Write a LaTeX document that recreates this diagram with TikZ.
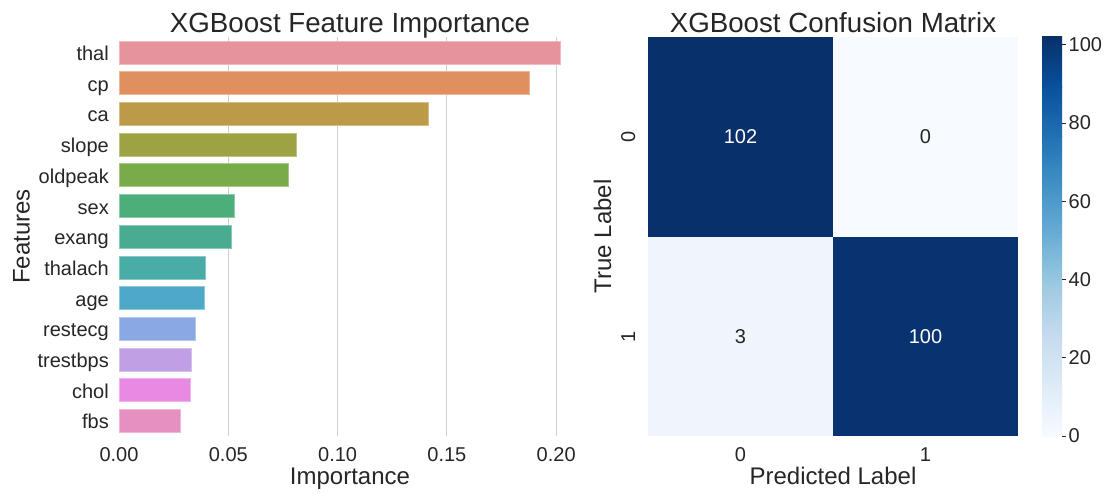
\documentclass[tikz,border=0pt]{standalone}
\usepackage{fontspec}
\setmainfont{Liberation Sans}
% text and grid
\definecolor{tc}{HTML}{262626}
\definecolor{gridc}{HTML}{D0D0D0}
% bar palette
\definecolor{c0}{HTML}{E5949E}
\definecolor{c1}{HTML}{E0905F}
\definecolor{c2}{HTML}{BD9A48}
\definecolor{c3}{HTML}{9DA343}
\definecolor{c4}{HTML}{79AB48}
\definecolor{c5}{HTML}{4CAF7A}
\definecolor{c6}{HTML}{49AC91}
\definecolor{c7}{HTML}{4AACA6}
\definecolor{c8}{HTML}{4EA9C9}
\definecolor{c9}{HTML}{8AA8E3}
\definecolor{c10}{HTML}{C09FE4}
\definecolor{c11}{HTML}{E88AE4}
\definecolor{c12}{HTML}{E590C0}
% Blues colormap stops
\definecolor{bl0}{HTML}{F7FBFF}
\definecolor{bl1}{HTML}{DEEBF7}
\definecolor{bl2}{HTML}{C6DBEF}
\definecolor{bl3}{HTML}{9ECAE1}
\definecolor{bl4}{HTML}{6BAED6}
\definecolor{bl5}{HTML}{4292C6}
\definecolor{bl6}{HTML}{2171B5}
\definecolor{bl7}{HTML}{08519C}
\definecolor{bl8}{HTML}{08306B}
% heatmap cells
\definecolor{hm102}{HTML}{08306B}
\definecolor{hm100}{HTML}{083370}
\definecolor{hm3}{HTML}{EFF5FB}
\definecolor{hm0}{HTML}{F7FBFF}
\begin{document}
\begin{tikzpicture}[x=1pt,y=-1pt,
  lbl/.style={text=tc, inner sep=0pt, font=\fontsize{20}{24}\selectfont},
  ttl/.style={text=tc, inner sep=0pt, font=\fontsize{27.7}{32}\selectfont},
  axl/.style={text=tc, inner sep=0pt, font=\fontsize{24}{28}\selectfont},
  gridline/.style={draw=gridc, line width=1pt},
  cbtick/.style={draw=tc, line width=0.8pt}]
\useasboundingbox[fill=white] (0,0) rectangle (1107,493);

% ---------------- feature importance ----------------
\foreach \v/\t in {0.05/0.05,0.10/0.10,0.15/0.15,0.20/0.20} {
  \pgfmathsetmacro{\gx}{119+\v*2186}
  \draw[gridline] (\gx,37) -- (\gx,436);
}
\foreach \v/\t [count=\k] in {0.00/0.00,0.05/0.05,0.10/0.10,0.15/0.15,0.20/0.20} {
  \pgfmathsetmacro{\gx}{119+\v*2186}
  \node[lbl, anchor=base] (xt\k) at (\gx,461) {\t};
}

\foreach \n/\v [count=\i from 0] in {thal/0.2017, cp/0.1876, ca/0.1414,
    slope/0.0810, oldpeak/0.0773, sex/0.0526, exang/0.0512, thalach/0.0393,
    age/0.0389, restecg/0.0348, trestbps/0.0329, chol/0.0325, fbs/0.0279} {
  \pgfmathsetmacro{\yc}{52.5+30.7*\i}
  \pgfmathsetmacro{\xe}{119+\v*2186}
  \filldraw[fill=c\i, draw=c\i!65!white, line width=0.8pt]
    (119,\yc-11.5) rectangle (\xe,\yc+11.5);
  \node[lbl, anchor=base east] (f\i) at (109,\yc+8) {\n};
}

\node[ttl, anchor=base] (t1) at (350,32) {XGBoost Feature Importance};
\node[axl, anchor=base] (xl1) at (350,484) {Importance};
\node[axl, anchor=base, rotate=90] (yl1) at (29.5,236.5) {Features};

% ---------------- confusion matrix ----------------
\fill[hm102] (648,37) rectangle (833,236.5);
\fill[hm0]   (833,37) rectangle (1018,236.5);
\fill[hm3]   (648,236.5) rectangle (833,436);
\fill[hm100] (833,236.5) rectangle (1018,436);

\node[lbl, text=white] (a00) at (740.5,136.5) {102};
\node[lbl] (a01) at (925.5,136.5) {0};
\node[lbl] (a10) at (740.5,336.5) {3};
\node[lbl, text=white] (a11) at (925.5,336.5) {100};

\node[lbl, anchor=base, rotate=90] (yt0) at (635,136.5) {0};
\node[lbl, anchor=base, rotate=90] (yt1) at (635,336.5) {1};
\node[lbl, anchor=base] (xt0) at (740.5,461) {0};
\node[lbl, anchor=base] (xtb1) at (925.5,461) {1};

\node[ttl, anchor=base] (t2) at (833,32) {XGBoost Confusion Matrix};
\node[axl, anchor=base] (xl2) at (833,484) {Predicted Label};
\node[axl, anchor=base, rotate=90] (yl2) at (611,236.5) {True Label};

% colour bar
\foreach \k [evaluate=\k as \kn using int(\k+1)] in {0,...,7} {
  \pgfmathsetmacro{\ylo}{436-49.875*\k}
  \pgfmathsetmacro{\yhi}{436-49.875*(\k+1)}
  \shade[bottom color=bl\k, top color=bl\kn]
    (1042,\yhi-0.3) rectangle (1062,\ylo+0.3);
}
\foreach \v [count=\k] in {0,20,40,60,80,100} {
  \pgfmathsetmacro{\cy}{436-\v*3.9118}
  \draw[cbtick] (1062,\cy) -- (1066,\cy);
  \node[lbl, anchor=west] (cb\k) at (1068.5,\cy) {\v};
}
\end{tikzpicture}
\end{document}
